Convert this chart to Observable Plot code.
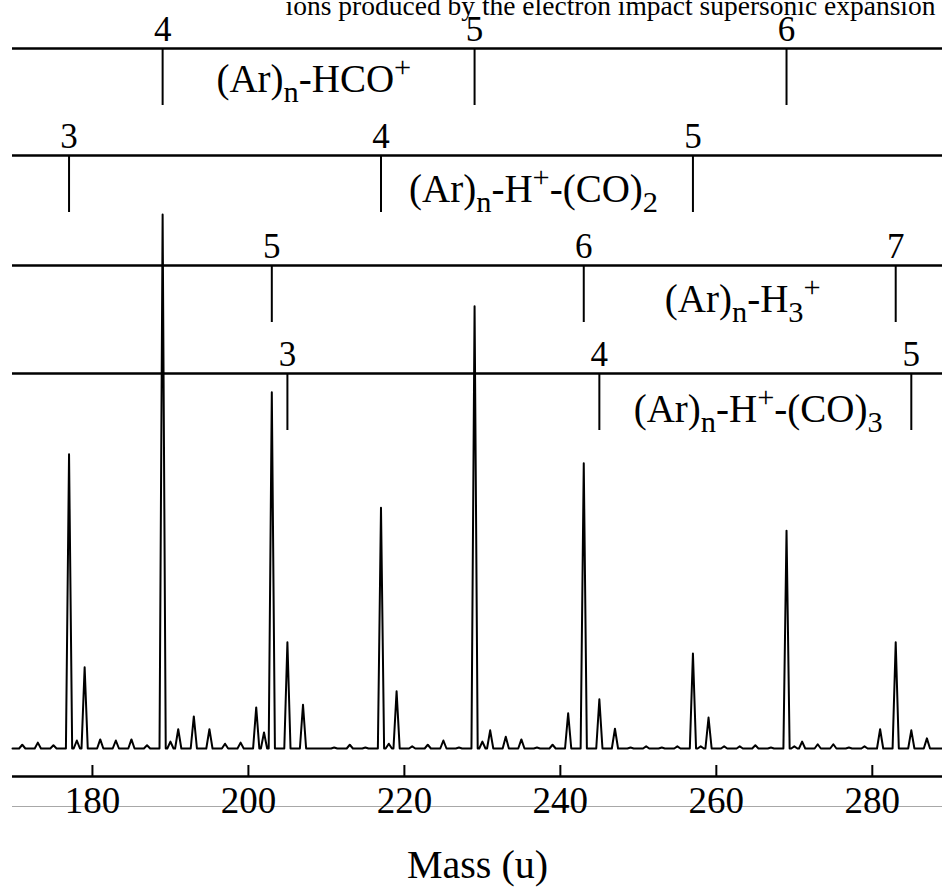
<!DOCTYPE html>
<html>
<head>
<meta charset="utf-8">
<script src="https://cdn.jsdelivr.net/npm/d3@7"></script>
<script src="https://cdn.jsdelivr.net/npm/@observablehq/plot@0.6"></script>
<style>
  body { margin: 0; background: #fff; }
  #chart svg { display: block; }
</style>
</head>
<body>
<div id="chart"></div>
<script>
// ---------------- data ----------------
// Peak apex masses (u) and intensities (arbitrary units, strongest = 100)
const peakMass = [171, 173, 175, 177, 178, 179, 181, 183, 185, 187,
  189, 190, 191, 193, 195, 197, 199, 201, 202, 203, 205, 207,
  211, 213, 215, 217, 218, 219, 221, 223, 225, 227,
  229, 230, 231, 233, 235, 237, 239, 241, 243, 245, 247,
  249, 251, 253, 255, 257, 258, 259, 261, 263, 265, 267,
  269, 270, 271, 273, 275, 277, 279, 281, 283, 285, 287];
const peakIntensity = [0.7, 1.1, 0.6, 55.1, 1.5, 15.2, 1.7, 1.5, 1.7, 0.6,
  100, 1.3, 3.6, 6.0, 3.6, 0.9, 1.1, 7.7, 3.0, 66.7, 19.9, 8.2,
  0.2, 0.7, 0.2, 45.1, 0.9, 10.7, 0.4, 0.7, 1.5, 0.2,
  82.8, 1.3, 3.4, 2.2, 1.7, 0.2, 0.7, 6.6, 53.4, 9.2, 3.7,
  0.2, 0.4, 0.2, 0.4, 17.8, 0.4, 5.8, 0.4, 0.4, 0.6, 0.2,
  40.8, 0.4, 1.3, 0.8, 0.8, 0.2, 0.4, 3.6, 19.9, 3.4, 1.9];

const xTicks = [180, 200, 220, 240, 260, 280];
const xLabel = "Mass (u)";

// cluster series ladders
const ladderNames = ["(Ar)_n-HCO^+", "(Ar)_n-H^+-(CO)_2", "(Ar)_n-H_3^+", "(Ar)_n-H^+-(CO)_3"];
const ladderMasses = [[189, 229, 269], [177, 217, 257], [203, 243, 283], [205, 245, 285]];
const ladderSizes = [[4, 5, 6], [3, 4, 5], [5, 6, 7], [3, 4, 5]];

const topText = "ions produced by the electron impact supersonic expansion";

// ---------------- layout ----------------
const PX = 5.34;               // pixels per intensity unit
const baselinePx = 748, axisPx = 776;
const u = px => px / PX;
const yMin = -(axisPx - baselinePx) / PX;
const yMax = baselinePx / PX;
const ladderLinePx = [48, 155, 265, 373];
const ladderLevel = ladderLinePx.map(p => (baselinePx - p) / PX);
const nameStartMass = [195.9, 220.6, 253.4, 249.4];
const nameBelowPx = [43, 46, 46, 48];
const halfWidth = 0.4;
const F = 39; // formula font size

const trace = [{m: 169.75, v: 0}];
peakMass.forEach((m, i) => {
  trace.push({m: m - halfWidth, v: 0}, {m, v: peakIntensity[i]}, {m: m + halfWidth, v: 0});
});
trace.push({m: 289, v: 0});

const ladderTicks = ladderMasses.flatMap((ms, i) =>
  ms.map((m, j) => ({mass: m, n: String(ladderSizes[i][j]), level: ladderLevel[i]})));

const chart = Plot.plot({
  width: 942,
  height: 891,
  marginLeft: 12,
  marginRight: 0,
  marginTop: 0,
  marginBottom: 115,
  x: {domain: [169.75, 289], labelArrow: "none"},
  y: {domain: [yMin, yMax], axis: null},
  style: {fontFamily: '"Liberation Serif", "Times New Roman", serif', fontSize: "36px", background: "#fff", color: "#000", overflow: "visible"},
  marks: [
    Plot.ruleY([-(806 - baselinePx) / PX], {stroke: "#a8a8a8", strokeWidth: 1}),
    Plot.text([topText], {frameAnchor: "top-right", dx: -7, dy: 14, text: d => d, textAnchor: "end", lineAnchor: "bottom", fontSize: 27.5}),
    Plot.ruleY(ladderLevel, {stroke: "#000", strokeWidth: 2.4}),
    Plot.ruleX(ladderTicks, {x: "mass", y1: "level", y2: d => d.level - u(57), stroke: "#000", strokeWidth: 2}),
    Plot.text(ladderTicks, {x: "mass", y: d => d.level + u(8), text: "n", lineAnchor: "bottom", fontSize: 35, fill: "#000"}),
    Plot.text(ladderNames, {
      x: (d, i) => nameStartMass[i],
      y: (d, i) => ladderLevel[i] - u(nameBelowPx[i]),
      text: d => d, textAnchor: "start", lineAnchor: "bottom", fontSize: F, fill: "#000"
    }),
    Plot.line(trace, {x: "m", y: "v", stroke: "#000", strokeWidth: 2}),
    Plot.ruleY([yMin], {stroke: "#000", strokeWidth: 2.4}),
    Plot.ruleX(xTicks, {x: d => d, y1: yMin, y2: yMin + u(11), stroke: "#000", strokeWidth: 2}),
    Plot.axisX(xTicks, {tickSize: 0, tickPadding: 10, fontSize: 37, label: xLabel, labelAnchor: "center", labelOffset: 101})
  ]
});

function richify(textEl, size) {
  const s = textEl.textContent;
  const segs = [];
  for (let i = 0; i < s.length; i++) {
    const c = s[i];
    if (c === "_" || c === "^") { segs.push({t: s[i + 1], k: c === "_" ? "sub" : "sup"}); i++; }
    else if (segs.length && segs[segs.length - 1].k === "norm") segs[segs.length - 1].t += c;
    else segs.push({t: c, k: "norm"});
  }
  while (textEl.firstChild) textEl.removeChild(textEl.firstChild);
  let cur = 0;
  for (const sg of segs) {
    const target = sg.k === "sub" ? 0.27 * size : sg.k === "sup" ? -0.36 * size : 0;
    const ts = document.createElementNS("http://www.w3.org/2000/svg", "tspan");
    ts.setAttribute("dy", String(target - cur));
    if (sg.k !== "norm") ts.setAttribute("font-size", String(0.78 * size));
    ts.textContent = sg.t;
    textEl.appendChild(ts);
    cur = target;
  }
}

document.getElementById("chart").append(chart);
chart.querySelectorAll("text").forEach(t => {
  const s = t.textContent;
  if (s.includes("(Ar)")) richify(t, F);
  else if (s.includes("Mass (u)")) {
    t.textContent = xLabel;
    t.setAttribute("font-size", "40");
    t.style.fontSize = "40px";
  }
});
</script>
</body>
</html>
